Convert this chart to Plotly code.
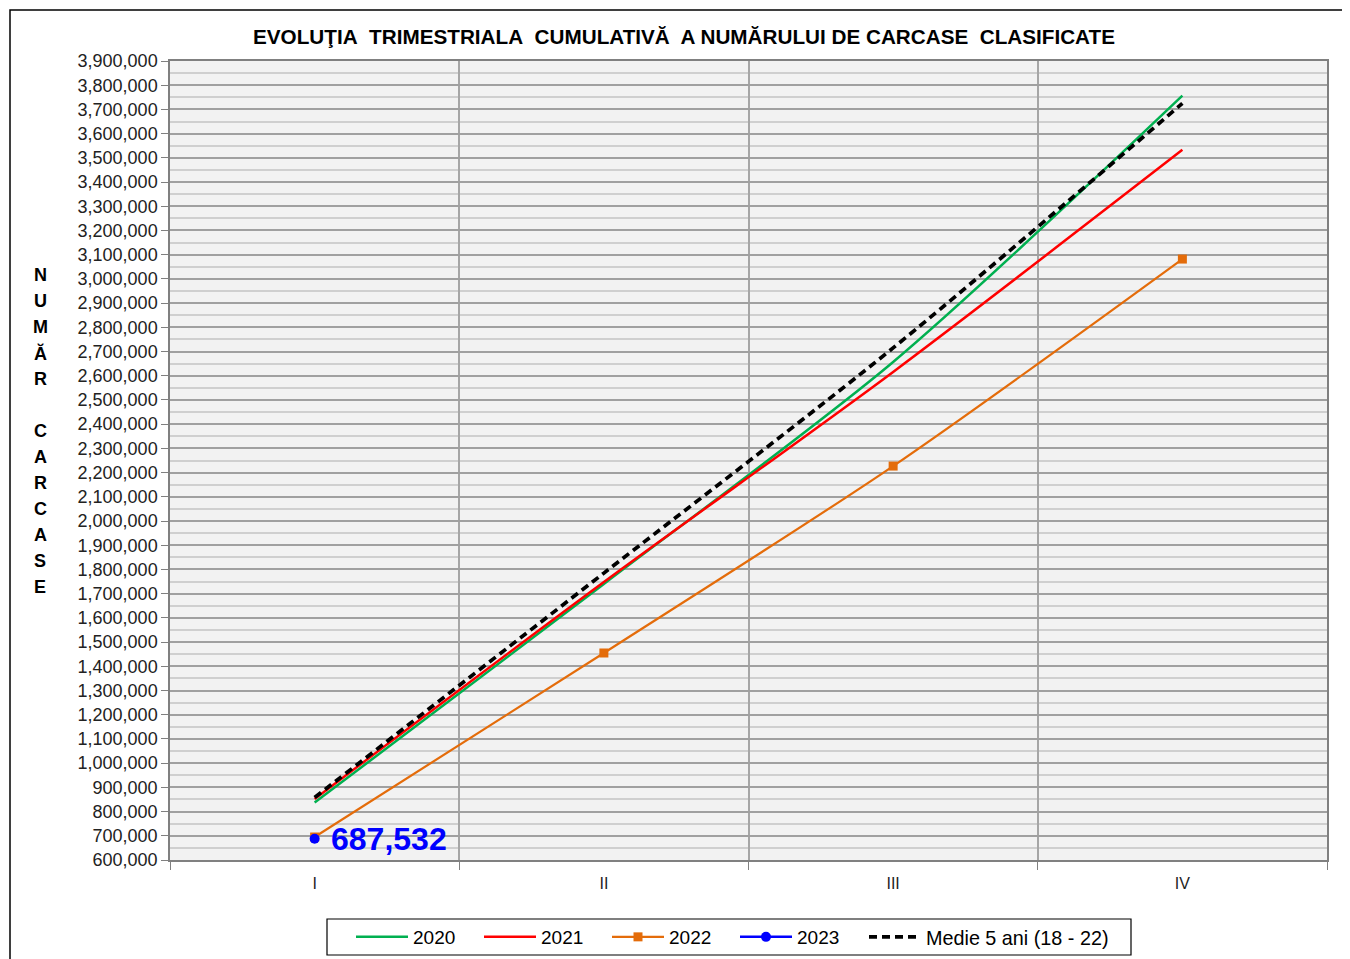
import plotly.graph_objects as go

# ---- data ----
quarters = ["I", "II", "III", "IV"]
v2020 = [837000, 1740000, 2657000, 3757000]
v2021 = [852000, 1748000, 2616000, 3533000]
v2022 = [695000, 1455000, 2227000, 3082000]
v2023 = [687532]
medie = [858000, 1785000, 2715000, 3725000]
label_2023 = "687,532"
series_names = ["2020", "2021", "2022", "2023", "Medie 5 ani (18 - 22)"]
title_text = "EVOLUŢIA\u00a0 TRIMESTRIALA\u00a0 CUMULATIVĂ\u00a0 A NUMĂRULUI DE CARCASE\u00a0 CLASIFICATE"
ytitle_letters = ["N", "U", "M", "Ă", "R", "", "C", "A", "R", "C", "A", "S", "E"]

FONT = "Liberation Sans, Arial, sans-serif"
OFF = 8  # page body margin


def px_x(px):
    return (px - 170) / 1157


def px_y(py):
    return (860 - py) / 799


fig = go.Figure()
fig.add_trace(go.Scatter(x=quarters, y=v2020, name=series_names[0], mode="lines", legend="legend",
                         line=dict(color="#00B050", width=2.5, shape="spline", smoothing=0.8)))
fig.add_trace(go.Scatter(x=quarters, y=v2021, name=series_names[1], mode="lines", legend="legend",
                         line=dict(color="#FF0000", width=2.5, shape="spline", smoothing=0.8)))
fig.add_trace(go.Scatter(x=quarters, y=v2022, name=series_names[2], mode="lines+markers", legend="legend",
                         line=dict(color="#E46C0A", width=2.2, shape="spline", smoothing=0.8),
                         marker=dict(symbol="square", size=9, color="#E46C0A")))
fig.add_trace(go.Scatter(x=quarters[:len(v2023)], y=v2023, name=series_names[3], mode="lines+markers",
                         legend="legend",
                         line=dict(color="#0000FF", width=2.5),
                         marker=dict(symbol="circle", size=10, color="#0000FF")))
fig.add_trace(go.Scatter(x=quarters, y=medie, name=series_names[4], mode="lines", legend="legend2",
                         line=dict(color="#000000", width=3.7, dash="8px,5px", shape="spline", smoothing=0.8)))

# data label for 2023
fig.add_annotation(x=quarters[0], y=v2023[0], text="<b>" + label_2023 + "</b>", showarrow=False,
                   xanchor="left", yanchor="middle", xshift=14, yshift=0,
                   font=dict(family=FONT, size=32, color="#0000FF"))

# vertical y-axis title, one letter per line
y0_px, step_px = 275, 26
for i, ch in enumerate(ytitle_letters):
    if not ch:
        continue
    py = y0_px + i * step_px
    fig.add_annotation(x=px_x(40), y=px_y(py), xref="paper", yref="paper",
                       text="<b>" + ch + "</b>", showarrow=False, xanchor="center", yanchor="middle",
                       font=dict(family=FONT, size=18, color="#000000"))

# outer chart border
fig.add_shape(type="rect", xref="paper", yref="paper",
              x0=px_x(10), x1=1.05, y0=-0.16, y1=px_y(10),
              line=dict(color="#000000", width=1.5), fillcolor="rgba(0,0,0,0)", layer="below")
# legend frame
fig.add_shape(type="rect", xref="paper", yref="paper",
              x0=px_x(327), x1=px_x(1131), y0=px_y(955), y1=px_y(919),
              line=dict(color="#000000", width=1.2), fillcolor="rgba(0,0,0,0)", layer="above")

legend_common = dict(orientation="h", yanchor="middle", y=px_y(937), xanchor="left",
                     bgcolor="rgba(0,0,0,0)", borderwidth=0,
                     font=dict(family=FONT, size=19, color="#000000"), itemwidth=52,
                     traceorder="normal")

fig.update_layout(
    width=1342, height=951,
    margin=dict(l=170 - OFF, r=23, t=61 - OFF, b=99, autoexpand=False),
    paper_bgcolor="white", plot_bgcolor="#F2F2F2",
    title=dict(text="<b>" + title_text + "</b>", x=(684 - OFF) / 1342, xref="container", xanchor="center",
               y=1 - (37 - OFF) / 951, yref="container", yanchor="middle",
               font=dict(family=FONT, size=20.7, color="#000000")),
    font=dict(family=FONT, color="#000000"),
    showlegend=True,
    legend=dict(legend_common, x=px_x(351), entrywidth=61),
    legend2=dict(legend_common, x=px_x(864), font=dict(family=FONT, size=19.8, color="#000000")),
)

fig.update_xaxes(type="category", categoryorder="array", categoryarray=quarters,
                 range=[-0.5, 3.5], tickson="boundaries", ticks="outside", ticklen=8,
                 tickcolor="#808080", tickwidth=1, showgrid=True, gridcolor="#A6A6A6", gridwidth=1.5,
                 showline=True, linecolor="#808080", linewidth=1.5, mirror=True, zeroline=False,
                 ticklabelstandoff=8,
                 tickfont=dict(family=FONT, size=16, color="#222222"))
fig.update_yaxes(range=[600000, 3900000], tick0=0, dtick=100000, tickformat=",d",
                 ticks="outside", ticklen=7, tickcolor="#808080", tickwidth=1,
                 showgrid=True, gridcolor="#A0A0A0", gridwidth=2,
                 minor=dict(dtick=50000, tick0=0, showgrid=True, gridcolor="#CFCFCF", gridwidth=1.5, ticks=""),
                 showline=True, linecolor="#808080", linewidth=1.5, mirror=True, zeroline=False,
                 tickfont=dict(family=FONT, size=18, color="#222222"))

fig.write_html("out.html")
